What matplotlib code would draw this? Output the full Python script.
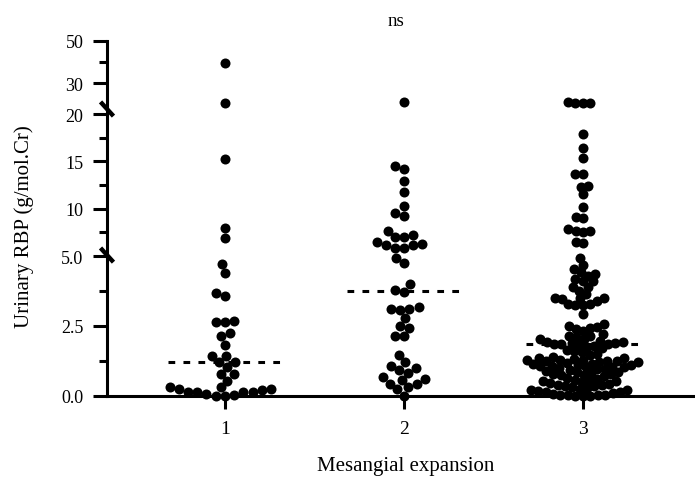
import numpy as np
import matplotlib
matplotlib.use('Agg')
import matplotlib.pyplot as plt

plt.rcParams['font.family'] = 'Liberation Serif'

groups = [1, 2, 3]
group_labels = ['1', '2', '3']

# urinary RBP (g/mol.Cr) per mesangial expansion grade
rbp_1 = [39.5, 20.3, 15.2, 8.0, 6.9, 4.71, 4.39, 3.68, 3.58, 2.65, 2.68, 2.65,
         2.25, 2.14, 1.83, 1.43, 1.43, 1.21, 1.21, 1.04, 0.79, 0.79, 0.55,
         0.31, 0.21, 0.31, 0.25, 0.13, 0.04, 0.07, 0.15, 0.01, 0.15, 0.25,
         0.01, 0.13]
rbp_2 = [20.8, 14.47, 14.2, 12.95, 11.8, 10.25, 9.54, 9.19, 7.67, 7.2, 6.97,
         6.51, 6.97, 5.81, 6.27, 6.16, 5.81, 6.16, 4.92, 4.75, 4.0, 3.73, 3.77,
         3.11, 3.17, 2.79, 3.11, 3.08, 2.51, 2.42, 2.15, 2.13, 1.46, 1.2, 0.82,
         0.94, 1.0, 1.08, 0.44, 0.44, 0.61, 0.67, 0.56, 0.25, 0.31, 0.01]
rbp_3 = [20.5, 20.6, 20.4, 20.8,
         17.9, 16.4, 15.3, 13.7, 13.7, 12.4, 12.25, 11.5, 10.2, 9.0, 9.1,
         7.85, 7.5, 7.6, 7.6, 6.5, 6.37,
         4.92, 4.68, 4.54, 4.42, 4.36, 4.3, 4.18, 4.1, 4.1, 3.9, 3.9, 3.76,
         3.64, 3.5, 3.49, 3.46, 3.49, 3.4, 3.27, 3.25, 3.29, 3.25, 2.93,
         2.57, 2.51, 2.46, 2.44, 2.40, 2.33, 2.21, 2.15, 2.15, 2.10, 2.04,
         2.04, 1.98,
         1.94, 1.92, 1.90, 1.88, 1.86, 1.86, 1.84, 1.82, 1.80, 1.76,
         1.70, 1.66, 1.62, 1.56, 1.50, 1.45, 1.40,
         1.36, 1.34, 1.31, 1.30, 1.28, 1.27, 1.26, 1.25, 1.24, 1.22, 1.20,
         1.18, 1.16,
         1.13, 1.11, 1.10, 1.08, 1.06, 1.05, 1.04, 1.02, 1.00, 0.98, 0.96, 0.93,
         0.88, 0.86, 0.84, 0.82, 0.80, 0.78, 0.76, 0.74, 0.71,
         0.64, 0.61, 0.58, 0.56, 0.54, 0.52, 0.50, 0.47,
         0.42, 0.40, 0.38, 0.36, 0.34, 0.32, 0.30,
         0.24, 0.22, 0.20, 0.18, 0.16, 0.14, 0.12,
         0.07, 0.05, 0.04, 0.03, 0.02, 0.01, 0.01, 0.00]
medians = [1.21, 3.75, 1.86]
spacing = [9.4, 9.4, 7.5]  # swarm point spacing (px); grade 3 is packed tighter

yticks = [0, 2.5, 5, 10, 15, 20, 30, 50]
ytick_labels = ['0.0', '2.5', '5.0', '10', '15', '20', '30', '50']
yminor = [1.25, 3.75, 7.5, 12.5, 17.5, 40]

# broken y axis: value -> height above the baseline (three linear segments)
seg_vals = [0, 5, 20, 20.001, 50]
seg_h = [0, 140, 282, 292, 355]


def fwd(v):
    v = np.asarray(v, dtype=float)
    out = np.interp(v, seg_vals, seg_h)
    out = np.where(v < 0, v * 28, out)
    return np.where(v > 50, 355 + (v - 50) * 2.1, out)


def inv(h):
    h = np.asarray(h, dtype=float)
    out = np.interp(h, seg_h, seg_vals)
    out = np.where(h < 0, h / 28, out)
    return np.where(h > 355, 50 + (h - 355) / 2.1, out)


def swarm_x(ax, xc, values, d):
    # simple beeswarm in display space, d = point spacing in pixels
    values = np.asarray(values, dtype=float)
    pts = ax.transData.transform(np.column_stack([np.full(len(values), xc), values]))
    xs = np.zeros(len(values))
    placed = []
    for i in np.argsort(values, kind='stable'):
        x0, y0 = pts[i]
        near = [(px, py) for px, py in placed if abs(py - y0) < d]
        cands = [x0]
        for px, py in near:
            dx = np.sqrt(d ** 2 - (py - y0) ** 2)
            cands += [px - dx, px + dx]
        cands.sort(key=lambda c: abs(c - x0))
        for c in cands:
            if all((c - px) ** 2 + (y0 - py) ** 2 >= d ** 2 - 1e-6 for px, py in near):
                break
        placed.append((c, y0))
        xs[i] = c
    back = ax.transData.inverted().transform(np.column_stack([xs, pts[:, 1]]))
    return back[:, 0]


fig = plt.figure(figsize=(6.95, 4.81), dpi=100)
ax = fig.add_axes([107 / 695, 1 - 397 / 481, 588 / 695, 355 / 481])
ax.set_yscale('function', functions=(fwd, inv))
ax.set_ylim(0, 50)
ax.set_xlim(0.341, 3.626)

for g, vals, m, d in zip(groups, [rbp_1, rbp_2, rbp_3], medians, spacing):
    xs = swarm_x(ax, g, vals, d)
    ax.scatter(xs, vals, s=52, color='black', linewidths=0, clip_on=False, zorder=3)
    ax.plot([g - 0.32, g + 0.32], [m, m], color='black', lw=2.2,
            ls=(0, (2.2, 2.7)), zorder=4)

for s in ['top', 'right']:
    ax.spines[s].set_visible(False)
for s in ['left', 'bottom']:
    ax.spines[s].set_linewidth(2.2)

ax.set_yticks(yticks)
ax.set_yticklabels(ytick_labels)
ax.set_yticks(yminor, minor=True)
ax.set_xticks(groups)
ax.set_xticklabels(group_labels)
ax.tick_params(axis='y', which='major', length=10, width=2.2, labelsize=13, pad=7)
ax.tick_params(axis='y', which='minor', length=6, width=2.2)
ax.tick_params(axis='x', which='major', length=9, width=2.2, labelsize=14, pad=8)
ax.tick_params(axis='x', which='minor', length=0)

# break marks on the y axis
for b in [fwd(5.1), (fwd(20) + fwd(20.001)) / 2]:
    f = float(b) / float(fwd(50))
    ax.plot([-0.011, 0.011], [f + 0.02, f - 0.02], transform=ax.transAxes,
            color='black', lw=3.2, clip_on=False, solid_capstyle='butt', zorder=5)

ax.set_ylabel('Urinary RBP (g/mol.Cr)', fontsize=15, va='center')
ax.yaxis.set_label_coords(-0.141, 0.48)
ax.set_xlabel('Mesangial expansion', fontsize=15, va='center')
ax.xaxis.set_label_coords(0.508, -0.197)

ax.text(1.955, 1.059, 'ns', transform=ax.get_xaxis_transform(),
        ha='center', va='center', fontsize=13.5)

plt.savefig('out.png', dpi=100)
